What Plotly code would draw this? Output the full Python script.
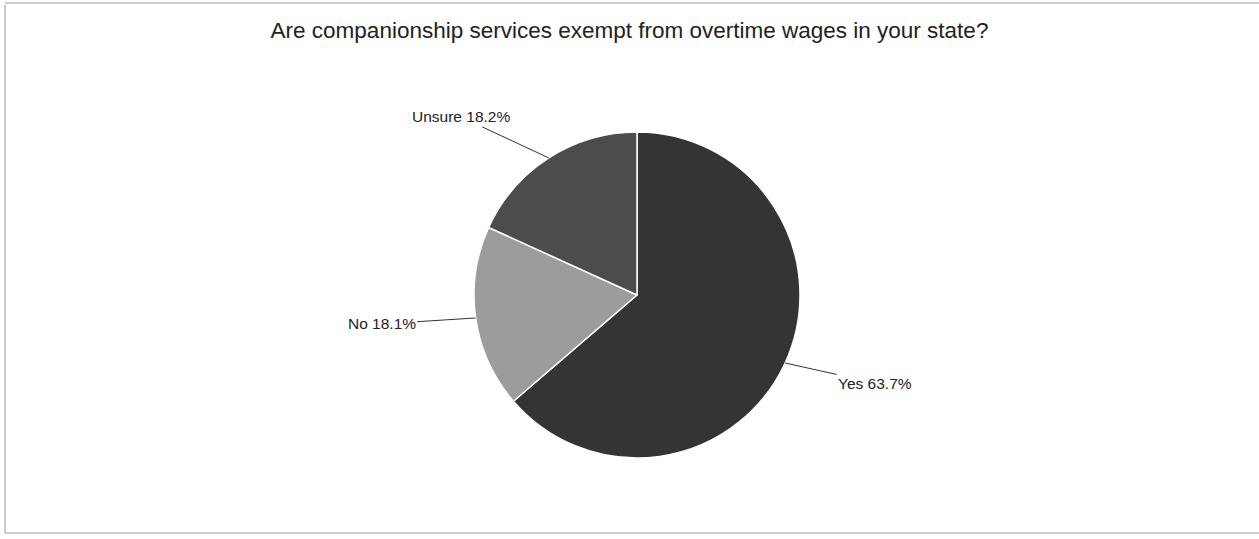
import math
import plotly.graph_objects as go

labels = ["Yes", "No", "Unsure"]
values = [63.7, 18.1, 18.2]
colors = ["#343434", "#9c9c9c", "#4c4c4c"]
title = "Are companionship services exempt from overtime wages in your state?"

W, H = 1259, 539
cx, cy, r = 637, 295, 163
# label text offsets (pixels) from the slice edge
offsets = {"Yes": (90, 20), "No": (-94, 6), "Unsure": (-88, -41)}

fig = go.Figure()
fig.add_trace(go.Pie(
    labels=labels, values=values, sort=False, direction="clockwise", rotation=0,
    marker=dict(colors=colors, line=dict(color="white", width=1.5)),
    textinfo="none", hoverinfo="label+percent", showlegend=False,
    domain=dict(x=[cx / W - 0.4, cx / W + 0.4],
                y=[1 - (cy + r) / H, 1 - (cy - r) / H]),
))

total = sum(values)
acc = 0
annotations = []
for lab, v in zip(labels, values):
    mid = (acc + v / 2) / total * 2 * math.pi
    acc += v
    px = cx + r * math.sin(mid)
    py = cy - r * math.cos(mid)
    ax, ay = offsets[lab]
    annotations.append(dict(
        x=px / W, y=1 - py / H, xref="paper", yref="paper",
        text=f"{lab} {v:.1f}%", showarrow=True, arrowhead=0, arrowwidth=1,
        arrowcolor="#333", ax=ax, ay=ay, standoff=0,
        font=dict(family="Liberation Sans, Arial, sans-serif", size=15.5, color="#222"),
    ))

line = dict(color="#999", width=1)
fig.update_layout(
    width=W, height=H,
    margin=dict(l=0, r=0, t=0, b=0),
    paper_bgcolor="white", plot_bgcolor="white",
    title=dict(text=title, x=0.5, xanchor="center", y=1 - 30 / H, yanchor="middle",
               font=dict(family="Liberation Sans, Arial, sans-serif", size=22.5, color="#222")),
    annotations=annotations,
    shapes=[
        dict(type="line", xref="paper", yref="paper", x0=5 / W, x1=5 / W,
             y0=1 - 533 / H, y1=1 - 5 / H, line=line),
        dict(type="line", xref="paper", yref="paper", x0=5 / W, x1=1,
             y0=1 - 3 / H, y1=1 - 3 / H, line=line),
        dict(type="line", xref="paper", yref="paper", x0=5 / W, x1=1,
             y0=1 - 533 / H, y1=1 - 533 / H, line=line),
    ],
)

fig.write_html("out.html")
